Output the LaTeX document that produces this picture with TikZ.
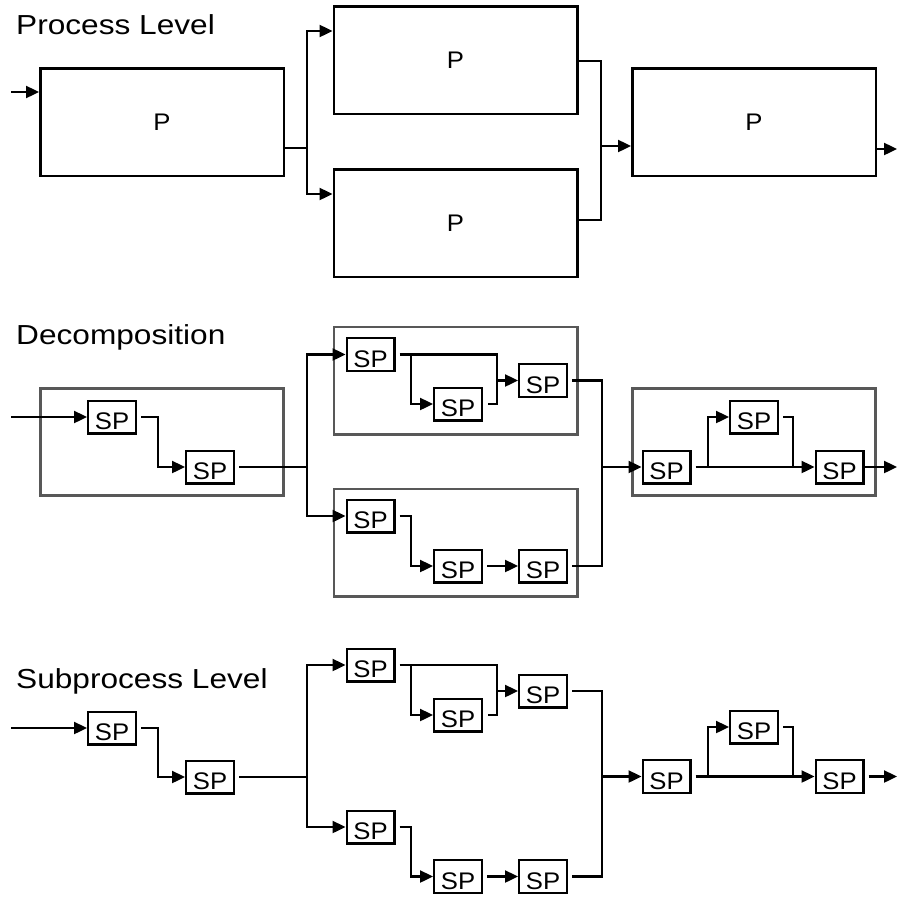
\documentclass[tikz,border=0pt]{standalone}
\usepackage{fontspec}
\setmainfont{Liberation Sans}[FakeStretch=1.15]
\newfontfamily\boxfont{Liberation Sans}[FakeStretch=1.07]
\usetikzlibrary{arrows.meta}
\definecolor{cgray}{RGB}{88,88,88}
\begin{document}
\begin{tikzpicture}[x=1pt,y=-1pt,
  ln/.style={line width=2.4pt},
  arr/.style={line width=2.4pt,-{Triangle[length=13pt,width=12pt]}},
  spbox/.style={draw,line width=2.4pt,minimum width=47.6pt,minimum height=32.6pt,inner sep=0pt,
    text height=25pt,text depth=0pt,font=\boxfont\fontsize{24}{24}\selectfont},
  pbox/.style={draw,line width=2.5pt,minimum width=243.5pt,minimum height=107.5pt,inner sep=0pt,
    font=\boxfont\fontsize{24}{24}\selectfont},
  contbox/.style={draw=cgray,line width=2.6pt,minimum width=243.4pt,minimum height=107.4pt,inner sep=0pt},
  title/.style={anchor=base west,inner sep=0pt,font=\fontsize{27.5}{30}\selectfont}]
\useasboundingbox (0,0) rectangle (898,897);

% ---------------- Process Level ----------------
\node[title] (t1) at (16,34) {Process Level};
\node[pbox] (P1) at (162,122) {P};
\node[pbox] (P2) at (455.5,60) {P};
\node[pbox] (P3) at (455.5,223) {P};
\node[pbox] (P4) at (754,122) {P};

\coordinate (pin) at (11,92);
\draw[arr] (pin) -- (pin -| P1.west);
\coordinate (pj1) at (307,148);
\coordinate (pj1t) at (307,31);
\coordinate (pj1b) at (307,194);
\draw[ln] (pj1 -| P1.east) -- (pj1);
\draw[arr] (pj1) |- (pj1t -| P2.west);
\draw[arr] (pj1) |- (pj1b -| P3.west);
\coordinate (pj2t) at (601,61);
\coordinate (pj2b) at (601,220);
\coordinate (pj2) at (601,146);
\draw[ln] (pj2t -| P2.east) -- (pj2t) -- (pj2b) -- (pj2b -| P3.east);
\draw[arr] (pj2) -- (pj2 -| P4.west);
\coordinate (pout) at (897,149);
\draw[arr] (pout -| P4.east) -- (pout);

% ---------------- Decomposition ----------------
\node[title] (t2) at (16,344) {Decomposition};
\node[contbox] (CA) at (162,442) {};
\node[contbox] (CB) at (455.5,380.5) {};
\node[contbox] (CC) at (455.5,542.5) {};
\node[contbox] (CD) at (754,442) {};

\node[spbox] (A1) at (112,417) {SP};
\node[spbox] (A2) at (210,467) {SP};
\node[spbox] (B1) at (370.5,354.5) {SP};
\node[spbox] (B2) at (458,404) {SP};
\node[spbox] (B3) at (543,380.5) {SP};
\node[spbox] (C1) at (370.5,516) {SP};
\node[spbox] (C2) at (458,566) {SP};
\node[spbox] (C3) at (543,566) {SP};
\node[spbox] (D1) at (666.5,467) {SP};
\node[spbox] (D2) at (754,417) {SP};
\node[spbox] (D3) at (839.5,467) {SP};

\coordinate (xL) at (11,0);
\coordinate (xa) at (158,0);
\coordinate (xj) at (307,0);
\coordinate (xb1) at (411,0);
\coordinate (xb2) at (497,0);
\coordinate (xd) at (602,0);
\coordinate (xe1) at (708,0);
\coordinate (xe2) at (793,0);
\coordinate (xR) at (897,0);

\draw[arr] (xL |- A1.west) -- (A1.west);
\draw[arr] ([xshift=4pt]A1.east) -| (xa |- A2.west) -- (A2.west);
\draw[ln] ([xshift=4pt]A2.east) -- (xj |- A2.east);
\draw[arr] (xj |- A2.east) |- (B1.west);
\draw[arr] (xj |- A2.east) |- (C1.west);
\draw[ln] ([xshift=4pt]B1.east) -| (xb2 |- B2.east) -- ([xshift=5pt]B2.east);
\draw[arr] (xb1 |- B1.east) |- (B2.west);
\draw[arr] (xb2 |- B3.west) -- (B3.west);
\draw[ln] ([xshift=4pt]B3.east) -| (xd |- C3.east) -- ([xshift=4pt]C3.east);
\draw[arr] ([xshift=4pt]C1.east) -| (xb1 |- C2.west) -- (C2.west);
\draw[arr] ([xshift=4pt]C2.east) -- (C3.west);
\draw[arr] (xd |- D1.west) -- (D1.west);
\draw[arr] ([xshift=4pt]D1.east) -- (D3.west);
\draw[arr] (xe1 |- D1.east) |- (D2.west);
\draw[ln] ([xshift=4pt]D2.east) -| (xe2 |- D3.west);
\draw[arr] (D3.east) -- (xR |- D3.east);

% ---------------- Subprocess Level ----------------
\node[title] (t3) at (16,688) {Subprocess Level};
\node[spbox] (E1) at (112,728) {SP};
\node[spbox] (E2) at (210,777) {SP};
\node[spbox] (F1) at (370.5,665) {SP};
\node[spbox] (F2) at (458,715) {SP};
\node[spbox] (F3) at (543,691) {SP};
\node[spbox] (G1) at (370.5,827) {SP};
\node[spbox] (G2) at (458,876.5) {SP};
\node[spbox] (G3) at (543,876.5) {SP};
\node[spbox] (H1) at (666.5,776.5) {SP};
\node[spbox] (H2) at (754,727) {SP};
\node[spbox] (H3) at (839.5,776.5) {SP};

\draw[arr] (xL |- E1.west) -- (E1.west);
\draw[arr] ([xshift=4pt]E1.east) -| (xa |- E2.west) -- (E2.west);
\draw[ln] ([xshift=4pt]E2.east) -- (xj |- E2.east);
\draw[arr] (xj |- E2.east) |- (F1.west);
\draw[arr] (xj |- E2.east) |- (G1.west);
\draw[ln] ([xshift=4pt]F1.east) -| (xb2 |- F2.east) -- ([xshift=5pt]F2.east);
\draw[arr] (xb1 |- F1.east) |- (F2.west);
\draw[arr] (xb2 |- F3.west) -- (F3.west);
\draw[ln] ([xshift=4pt]F3.east) -| (xd |- G3.east) -- ([xshift=4pt]G3.east);
\draw[arr] ([xshift=4pt]G1.east) -| (xb1 |- G2.west) -- (G2.west);
\draw[arr] ([xshift=4pt]G2.east) -- (G3.west);
\draw[arr] (xd |- H1.west) -- (H1.west);
\draw[arr] ([xshift=4pt]H1.east) -- (H3.west);
\draw[arr] (xe1 |- H1.east) |- (H2.west);
\draw[ln] ([xshift=4pt]H2.east) -| (xe2 |- H3.west);
\draw[arr] ([xshift=4pt]H3.east) -- (xR |- H3.east);
\end{tikzpicture}
\end{document}
